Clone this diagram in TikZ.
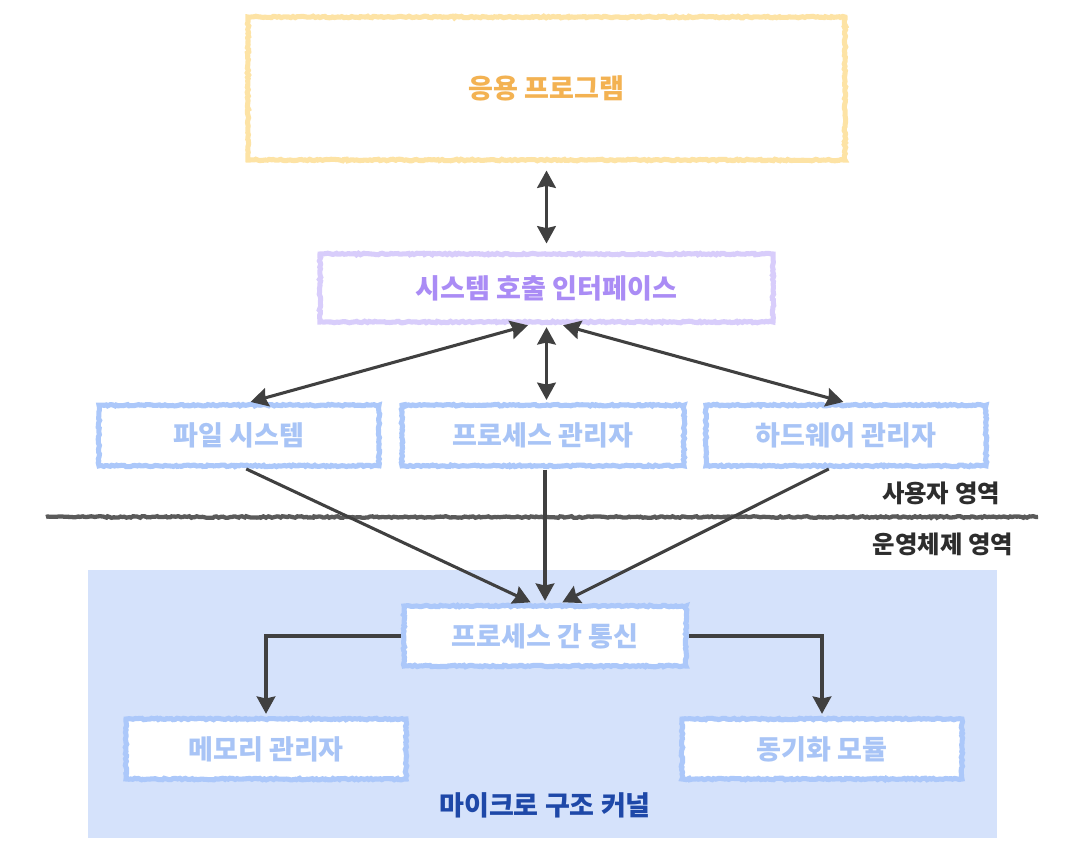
\documentclass[tikz,border=0pt]{standalone}
\usepackage{fontspec}
\setmainfont{Noto Sans CJK KR}
\usetikzlibrary{arrows.meta,decorations.pathmorphing,calc,fit}
\definecolor{appstroke}{RGB}{253,227,165}
\definecolor{apptext}{RGB}{243,178,82}
\definecolor{sysstroke}{RGB}{216,205,251}
\definecolor{systext}{RGB}{170,140,245}
\definecolor{bluestroke}{RGB}{172,200,250}
\definecolor{bluetext}{RGB}{168,196,246}
\definecolor{kernelfill}{RGB}{213,226,251}
\definecolor{kerneltext}{RGB}{30,72,168}
\definecolor{arrowcol}{RGB}{64,64,64}
\definecolor{linecol}{RGB}{90,90,90}
\definecolor{zonetext}{RGB}{45,45,45}
\tikzset{
  rough/.style={decorate,decoration={random steps,segment length=1.6pt,amplitude=0.6pt}},
  box/.style={rough,draw,line width=3.8pt,fill=white,font=\bfseries\fontsize{20.3}{22}\selectfont,inner sep=0pt},
  appbox/.style={box,draw=appstroke,text=apptext},
  sysbox/.style={box,draw=sysstroke,text=systext},
  bluebox/.style={box,draw=bluestroke,text=bluetext,minimum height=45.5pt},
  tip/.tip={Stealth[length=13pt,width=14pt,inset=1.5pt]},
  conn/.style={draw=arrowcol,line width=2.3pt,-tip},
  biconn/.style={conn,tip-tip},
  zone/.style={font=\bfseries\fontsize{18.3}{20}\selectfont,text=zonetext,inner sep=0pt},
}
\begin{document}
\begin{tikzpicture}[x=0.75pt,y=-0.75pt]
\useasboundingbox (0,0) rectangle (1088,854);
% kernel region
\node[fill=kernelfill,inner sep=0pt,fit={(88,570) (997,838)}] (kernel) {};
\node[font=\bfseries\fontsize{20.3}{22}\selectfont,text=kerneltext,inner sep=0pt] (klabel) at (545,805) {마이크로 구조 커널};
% boxes
\node[appbox,minimum width=447.75pt,minimum height=107.25pt] (app) at (546.5,88.5) {응용 프로그램};
\node[sysbox,minimum width=339.75pt,minimum height=51pt] (sys) at (546.5,288) {시스템 호출 인터페이스};
\node[bluebox,minimum width=210pt] (fs) at (239,435.5) {파일 시스템};
\node[bluebox,minimum width=211.5pt] (pm) at (543,435.5) {프로세스 관리자};
\node[bluebox,minimum width=210pt] (hw) at (846,435.5) {하드웨어 관리자};
\node[bluebox,minimum width=211.5pt,minimum height=45pt] (ipc) at (545,636) {프로세스 간 통신};
\node[bluebox,minimum width=210pt,minimum height=45pt] (mem) at (266,749) {메모리 관리자};
\node[bluebox,minimum width=210pt,minimum height=45pt] (sync) at (822,749) {동기화 모듈};
% divider
\coordinate (divL) at (46,517);
\coordinate (divR) at (1038,517);
\draw[rough,draw=linecol,line width=3.2pt] (divL) -- (divR);
\node[zone] (user) at (941,493) {사용자 영역};
\node[zone] (os) at (943,544) {운영체제 영역};
% connectors
\draw[biconn,shorten <=6pt,shorten >=6pt] (app.south) -- (sys.north);
\draw[biconn,shorten <=2pt,shorten >=2pt] ($(sys.south)+(-16,0)$) -- ($(fs.north)+(9,0)$);
\draw[biconn,shorten <=2pt,shorten >=2pt] (sys.south) -- (sys.south |- pm.north);
\draw[biconn,shorten <=2pt,shorten >=2pt] ($(sys.south)+(14,0)$) -- (hw.north);
\draw[conn,shorten <=1pt,shorten >=2pt] ($(fs.south)+(6,0)$) -- ($(ipc.north)+(-12,0)$);
\draw[conn,shorten <=1pt,shorten >=2pt] (pm.south -| ipc.north) -- (ipc.north);
\draw[conn,shorten <=1pt,shorten >=2pt] ($(hw.south)+(-16,0)$) -- ($(ipc.north)+(15,0)$);
\draw[conn,shorten >=2pt] (ipc.west) -| (mem.north);
\draw[conn,shorten >=2pt] (ipc.east) -| (sync.north);
\end{tikzpicture}
\end{document}
